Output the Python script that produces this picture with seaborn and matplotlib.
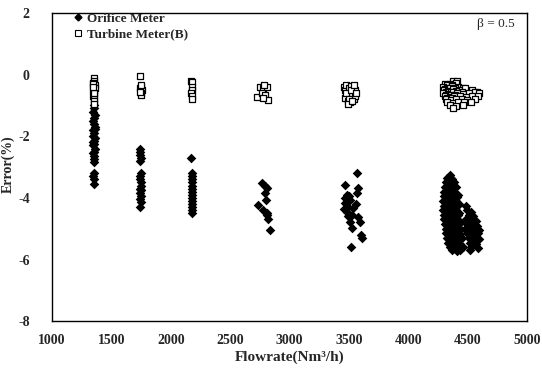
import matplotlib
matplotlib.use("Agg")
import matplotlib.pyplot as plt
import seaborn as sns
import pandas as pd
from matplotlib.lines import Line2D

# ---- data, grouped by flowrate cluster ----
orifice_x1 = [1350, 1355, 1345, 1358, 1350, 1342, 1355, 1362, 1348, 1352, 1345, 1360, 1350, 1355,
              1343, 1358, 1350, 1347, 1355, 1350, 1360, 1345, 1352, 1348, 1355, 1350, 1357]
orifice_y1 = [-1.0, -1.1, -1.2, -1.3, -1.4, -1.5, -1.6, -1.7, -1.8, -1.9, -2.0, -2.05, -2.15, -2.25,
              -2.3, -2.4, -2.5, -2.55, -2.65, -2.75, -1.75, -2.2, -3.2, -3.3, -3.4, -3.55, -2.85]
turbine_x1 = [1350, 1355, 1345, 1358, 1350, 1345, 1355, 1352, 1348, 1358, 1350, 1355, 1345, 1350, 1355, 1348]
turbine_y1 = [-0.1, -0.2, -0.28, -0.35, -0.42, -0.5, -0.55, -0.62, -0.7, -0.45, -0.78, -0.85, -0.3, -0.6, -0.95, -0.4]

orifice_x2 = [1740, 1745, 1742, 1748, 1745, 1750, 1745, 1740, 1752, 1748, 1745, 1750, 1742, 1748, 1745, 1750, 1745]
orifice_y2 = [-2.4, -2.5, -2.6, -2.7, -2.8, -3.2, -3.3, -3.4, -3.5, -3.6, -3.7, -3.75, -3.85, -3.95, -4.05, -4.15, -4.3]
turbine_x2 = [1745, 1750, 1740, 1755, 1748, 1752, 1742, 1750]
turbine_y2 = [-0.05, -0.4, -0.45, -0.5, -0.6, -0.65, -0.55, -0.35]

orifice_x3 = [2170, 2175, 2180, 2178, 2182, 2176, 2180, 2183, 2178, 2180, 2176, 2182, 2180, 2178, 2183]
orifice_y3 = [-2.7, -3.2, -3.3, -3.4, -3.5, -3.6, -3.7, -3.8, -3.9, -4.0, -4.1, -4.2, -4.3, -4.4, -4.5]
turbine_x3 = [2170, 2180, 2175, 2178, 2172, 2180, 2175]
turbine_y3 = [-0.2, -0.25, -0.4, -0.5, -0.6, -0.7, -0.8]

orifice_x4 = [2766, 2807, 2793, 2802, 2737, 2780, 2807, 2821, 2835, 2790, 2815]
orifice_y4 = [-3.53, -3.69, -3.85, -4.07, -4.23, -4.40, -4.50, -4.67, -5.05, -3.6, -4.55]
turbine_x4 = [2723, 2752, 2780, 2807, 2766, 2793, 2821, 2780, 2785]
turbine_y4 = [-0.72, -0.39, -0.45, -0.39, -0.61, -0.66, -0.82, -0.77, -0.34]

orifice_x5 = [3566, 3467, 3580, 3566, 3481, 3509, 3467, 3495, 3537, 3481, 3523, 3580, 3594, 3509,
              3523, 3608, 3515, 3470, 3490, 3500, 3460, 3560, 3600]
orifice_y5 = [-3.2, -3.58, -3.69, -3.85, -3.91, -4.07, -4.18, -4.29, -4.34, -4.45, -4.56, -4.61, -4.78, -4.78,
              -4.99, -5.31, -5.6, -4.0, -4.6, -3.95, -4.35, -4.2, -5.2]
turbine_x5 = [3460, 3470, 3480, 3490, 3500, 3510, 3520, 3530, 3540, 3550, 3470, 3490, 3510, 3530,
              3550, 3480, 3500, 3520, 3540, 3560, 3495, 3525]
turbine_y5 = [-0.4, -0.5, -0.35, -0.6, -0.45, -0.7, -0.38, -0.55, -0.8, -0.5, -0.75, -0.85, -0.9, -0.65,
              -0.7, -0.6, -0.8, -0.5, -0.35, -0.6, -0.95, -0.85]

orifice_x6 = [4350,
              4330, 4370,
              4320, 4350, 4390,
              4310, 4340, 4370, 4400,
              4300, 4330, 4360, 4390, 4420,
              4300, 4325, 4350, 4380, 4410,
              4290, 4320, 4345, 4370, 4400, 4430,
              4300, 4330, 4355, 4385, 4410, 4490,
              4295, 4320, 4350, 4375, 4400, 4430, 4500, 4530,
              4305, 4330, 4360, 4390, 4420, 4510, 4550,
              4300, 4325, 4350, 4380, 4410, 4440, 4490, 4530, 4570,
              4310, 4340, 4370, 4400, 4430, 4500, 4540, 4580,
              4320, 4345, 4375, 4405, 4435, 4480, 4520, 4560, 4600,
              4315, 4350, 4380, 4410, 4440, 4500, 4540, 4590,
              4330, 4360, 4390, 4420, 4450, 4510, 4560, 4600,
              4340, 4375, 4405, 4435, 4520, 4570,
              4350, 4390, 4420, 4460, 4530, 4590,
              4370, 4410, 4440, 4520]
orifice_y6 = [-3.25,
              -3.35, -3.4,
              -3.5, -3.55, -3.48,
              -3.65, -3.62, -3.7, -3.66,
              -3.8, -3.78, -3.85, -3.82, -3.9,
              -3.95, -3.98, -3.92, -4.0, -3.96,
              -4.1, -4.12, -4.08, -4.15, -4.1, -4.2,
              -4.25, -4.28, -4.22, -4.3, -4.26, -4.25,
              -4.4, -4.42, -4.38, -4.45, -4.4, -4.48, -4.4, -4.45,
              -4.55, -4.58, -4.52, -4.6, -4.56, -4.55, -4.6,
              -4.7, -4.72, -4.68, -4.75, -4.7, -4.78, -4.7, -4.72, -4.75,
              -4.85, -4.88, -4.82, -4.9, -4.86, -4.85, -4.88, -4.9,
              -5.0, -5.02, -4.98, -5.05, -5.0, -5.0, -5.02, -5.0, -5.05,
              -5.15, -5.18, -5.12, -5.2, -5.16, -5.15, -5.18, -5.15,
              -5.3, -5.32, -5.28, -5.35, -5.3, -5.3, -5.32, -5.35,
              -5.45, -5.48, -5.42, -5.5, -5.45, -5.5,
              -5.6, -5.62, -5.58, -5.6, -5.6, -5.62,
              -5.7, -5.72, -5.7, -5.7]
turbine_x6 = [4380, 4410,
              4310, 4350, 4400, 4330, 4370,
              4290, 4330, 4370, 4420, 4460, 4310, 4350, 4395,
              4300, 4340, 4380, 4430, 4480, 4540, 4580, 4320, 4360, 4405, 4455,
              4295, 4335, 4375, 4415, 4460, 4510, 4560, 4600, 4315, 4355, 4395,
              4310, 4350, 4390, 4440, 4490, 4540, 4590, 4330, 4370,
              4320, 4360, 4400, 4450, 4500, 4560,
              4330, 4380, 4420, 4470, 4530,
              4350, 4400, 4460,
              4380]
turbine_y6 = [-0.2, -0.22,
              -0.3, -0.32, -0.28, -0.35, -0.33,
              -0.4, -0.42, -0.38, -0.4, -0.45, -0.46, -0.45, -0.44,
              -0.5, -0.52, -0.48, -0.5, -0.45, -0.5, -0.55, -0.56, -0.55, -0.54, -0.56,
              -0.6, -0.62, -0.58, -0.6, -0.62, -0.6, -0.58, -0.6, -0.66, -0.65, -0.66,
              -0.7, -0.72, -0.68, -0.7, -0.72, -0.7, -0.7, -0.76, -0.75,
              -0.8, -0.82, -0.78, -0.8, -0.82, -0.8,
              -0.9, -0.92, -0.88, -0.9, -0.9,
              -1.0, -1.02, -0.98,
              -1.1]

orifice_x = orifice_x1 + orifice_x2 + orifice_x3 + orifice_x4 + orifice_x5 + orifice_x6
orifice_y = orifice_y1 + orifice_y2 + orifice_y3 + orifice_y4 + orifice_y5 + orifice_y6
turbine_x = turbine_x1 + turbine_x2 + turbine_x3 + turbine_x4 + turbine_x5 + turbine_x6
turbine_y = turbine_y1 + turbine_y2 + turbine_y3 + turbine_y4 + turbine_y5 + turbine_y6

x_ticks = [1000, 1500, 2000, 2500, 3000, 3500, 4000, 4500, 5000]
y_ticks = [-8, -6, -4, -2, 0, 2]

orifice = pd.DataFrame({"flow": orifice_x, "err": orifice_y})
turbine = pd.DataFrame({"flow": turbine_x, "err": turbine_y})

sns.set_style("white")
plt.rcParams["font.family"] = ["Liberation Serif", "DejaVu Serif"]

fig = plt.figure(figsize=(5.42, 3.70), dpi=100)
ax = fig.add_axes([0.096, 0.132, 0.876, 0.833])

sns.scatterplot(data=orifice, x="flow", y="err", marker="D", color="black",
                s=24, linewidth=0, ax=ax)
sns.scatterplot(data=turbine, x="flow", y="err", marker="s", color="white",
                edgecolor="black", s=22, linewidth=0.9, ax=ax)

ax.set_xlim(1000, 5000)
ax.set_ylim(-8, 2)
ax.set_xticks(x_ticks)
ax.set_yticks(y_ticks)
ax.set_xticklabels([str(t) for t in x_ticks], fontsize=10, fontweight="bold")
ax.set_yticklabels([str(t) for t in y_ticks], fontsize=10, fontweight="bold")
ax.tick_params(direction="in", length=3, width=0.8)
ax.tick_params(axis="y", pad=16)
ax.tick_params(axis="x", pad=9)
for sp in ax.spines.values():
    sp.set_color("black")
    sp.set_linewidth(1.0)

ax.set_xlabel("Flowrate(Nm³/h)", fontsize=11, fontweight="bold", labelpad=3)
ax.set_ylabel("Error(%)", fontsize=10, fontweight="bold")
ax.yaxis.set_label_coords(-0.078, 0.51)

handles = [
    Line2D([], [], marker="D", color="black", linestyle="none", markersize=3.5),
    Line2D([], [], marker="s", markerfacecolor="white", markeredgecolor="black",
           linestyle="none", markersize=4.5, markeredgewidth=0.8),
]
ax.legend(handles, ["Orifice Meter", "Turbine Meter(B)"], loc="upper left",
          bbox_to_anchor=(0.04, 1.01), borderaxespad=0, borderpad=0.2,
          frameon=False, handlelength=0.6, handletextpad=0.4,
          labelspacing=0.25, prop={"weight": "bold", "size": 9.5})

ax.text(0.975, 0.985, "β = 0.5", transform=ax.transAxes, ha="right", va="top", fontsize=9.5)

fig.savefig("out.png", dpi=100)
